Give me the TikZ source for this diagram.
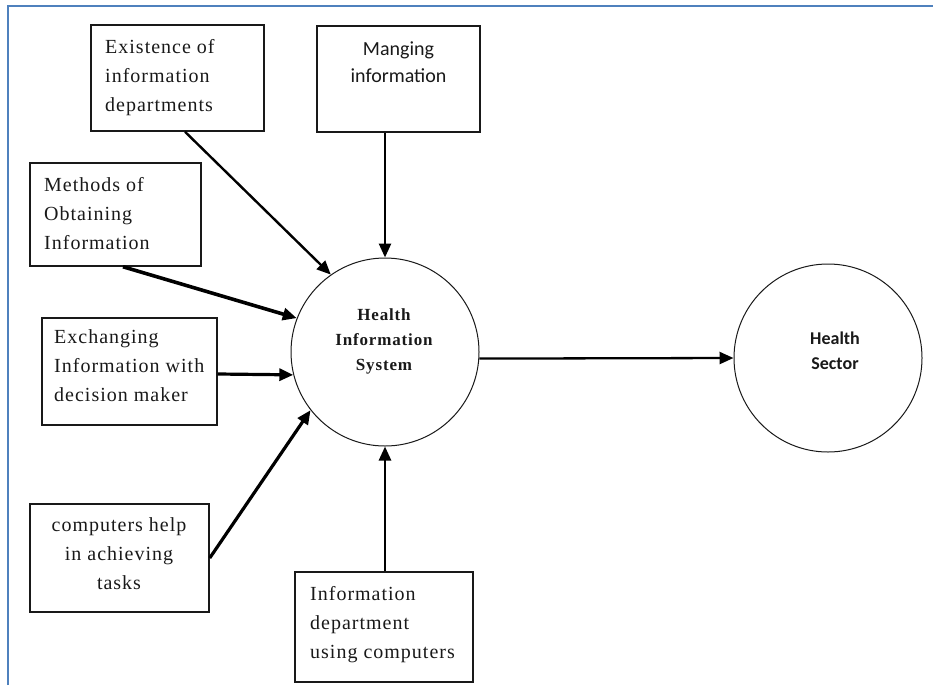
\documentclass[tikz,border=0pt]{standalone}
\usepackage{fontspec}
\setmainfont{Liberation Serif}[LetterSpace=5]
\newfontfamily\calibri{Carlito}
\usetikzlibrary{arrows.meta}
\definecolor{frameblue}{RGB}{79,129,189}
\definecolor{ink}{RGB}{25,25,25}
\begin{document}
\begin{tikzpicture}[x=1pt,y=-1pt,
  box/.style={draw=ink, line width=1.5pt, inner sep=0, rectangle},
  txt/.style={inner sep=0, align=left, anchor=north west, text=ink, font=\fontsize{20}{29}\selectfont},
  arr/.style={line width=2.6pt, draw=black, -{Triangle[length=14pt,width=12pt]}},
  circ/.style={draw=ink, line width=1pt, circle, minimum size=188pt, inner sep=0}]
\useasboundingbox (0,0) rectangle (933,685);
\draw[frameblue, line width=2pt] (7.5,685) -- (7.5,6.5) -- (933,6.5);

% boxes
\node[box, minimum width=173pt, minimum height=106pt] (b1) at (177.5,78) {};
\node[box, minimum width=163pt, minimum height=106pt] (b2) at (398.5,79) {};
\node[box, minimum width=171pt, minimum height=103pt] (b3) at (115.5,214.5) {};
\node[box, minimum width=175pt, minimum height=107pt] (b4) at (129.5,371.5) {};
\node[box, minimum width=179pt, minimum height=108pt] (b5) at (119.5,558) {};
\node[box, minimum width=178pt, minimum height=110pt] (b6) at (384,627) {};

% texts
\node[txt] (t1) at (105,39.3) {Existence of\\information\\departments};
\node[txt, anchor=north, align=center, font=\calibri\fontsize{20}{27}\selectfont] (t2) at (398.5,42) {Manging\\information};
\node[txt] (t3) at (44,177.3) {Methods of\\Obtaining\\Information};
\node[txt] (t4) at (54,329.3) {Exchanging\\Information with\\decision maker};
\node[txt, anchor=north, align=center] (t5) at (119,517.3) {computers help\\in achieving\\tasks};
\node[txt] (t6) at (310,586.3) {Information\\department\\using computers};

% circles
\node[circ] (his) at (385,352) {};
\node[circ] (hs) at (828,358) {};
\node[txt, anchor=north, align=center, font=\bfseries\fontsize{17}{25}\selectfont] (hist) at (384,308.5) {Health\\Information\\System};
\node[txt, anchor=north, align=center, font=\calibri\bfseries\fontsize{18}{25}\selectfont] (hst) at (835,331.5) {Health\\Sector};

% connectors
\draw[arr, line width=2.4pt] ([xshift=7.5pt]b1.south) -- (his.125);
\draw[arr] ([xshift=-13.5pt]b2.south) -- (his.north);
\draw[arr, line width=3.6pt] ([xshift=7.5pt]b3.south) -- (his.159);
\draw[arr, line width=3.2pt] ([yshift=-2.5pt]b4.east) -- (his.194);
\draw[arr, line width=3.2pt] (b5.east) -- (his.218);
\draw[arr] (b6.north -| his.south) -- (his.south);
\draw[arr, line width=2.3pt] (his.-4) -- (hs.west);
\end{tikzpicture}
\end{document}
